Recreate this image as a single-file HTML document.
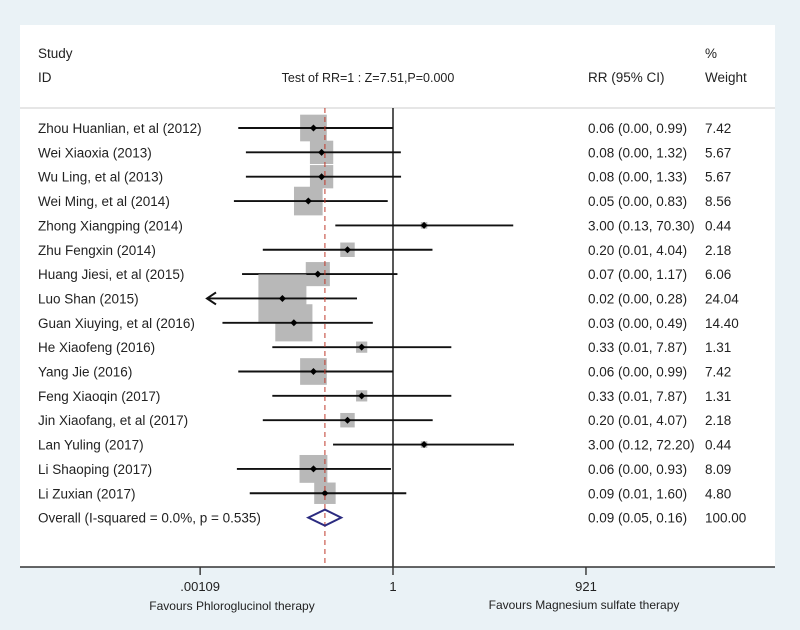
<!DOCTYPE html>
<html><head><meta charset="utf-8"><style>
body{margin:0;background:#fff}
svg{display:block;font-family:"Liberation Sans",sans-serif}
</style></head><body>
<svg id="c" width="800" height="630">
<rect x="0" y="0" width="800" height="630" fill="#eaf2f6"/>
<rect x="20" y="25" width="755" height="542" fill="#ffffff"/>
<g font-size="13.5" fill="#222">
<text x="38" y="58">Study</text>
<text x="38" y="82">ID</text>
<text x="368" y="82" font-size="12.5" text-anchor="middle">Test of RR=1 : Z=7.51,P=0.000</text>
<text x="588" y="82">RR (95% CI)</text>
<text x="705" y="58">%</text>
<text x="705" y="82">Weight</text>
</g>
<line x1="20" y1="108" x2="775" y2="108" stroke="#ccc"/>
<g id="marks"></g>
</svg>
<script>
const studies=["Zhou Huanlian, et al (2012)","Wei Xiaoxia (2013)","Wu Ling, et al (2013)","Wei Ming, et al (2014)","Zhong Xiangping (2014)","Zhu Fengxin (2014)","Huang Jiesi, et al (2015)","Luo Shan (2015)","Guan Xiuying, et al (2016)","He Xiaofeng (2016)","Yang Jie (2016)","Feng Xiaoqin (2017)","Jin Xiaofang, et al (2017)","Lan Yuling (2017)","Li Shaoping (2017)","Li Zuxian (2017)"];
const rr=[0.06,0.08,0.08,0.05,3.00,0.20,0.07,0.02,0.03,0.33,0.06,0.33,0.20,3.00,0.06,0.09];
const lower=[0.0042,0.0055,0.0055,0.0036,0.13,0.01,0.0048,0.0003,0.0024,0.014,0.0042,0.014,0.01,0.12,0.004,0.0063];
const upper=[0.99,1.32,1.33,0.83,70.30,4.04,1.17,0.28,0.49,7.87,0.99,7.87,4.07,72.20,0.93,1.60];
const ciText=["0.06 (0.00, 0.99)","0.08 (0.00, 1.32)","0.08 (0.00, 1.33)","0.05 (0.00, 0.83)","3.00 (0.13, 70.30)","0.20 (0.01, 4.04)","0.07 (0.00, 1.17)","0.02 (0.00, 0.28)","0.03 (0.00, 0.49)","0.33 (0.01, 7.87)","0.06 (0.00, 0.99)","0.33 (0.01, 7.87)","0.20 (0.01, 4.07)","3.00 (0.12, 72.20)","0.06 (0.00, 0.93)","0.09 (0.01, 1.60)"];
const weights=[7.42,5.67,5.67,8.56,0.44,2.18,6.06,24.04,14.40,1.31,7.42,1.31,2.18,0.44,8.09,4.80];
const overall=[0.09,0.05,0.16];
const overallLabel="Overall  (I-squared = 0.0%, p = 0.535)";
const overallCI="0.09 (0.05, 0.16)";
const ticks=[0.00109,1,921];
const tickLabels=[".00109","1","921"];

const NS="http://www.w3.org/2000/svg";
const g=document.getElementById('marks');
const X=v=>393+65.1*Math.log10(v);
const Y=i=>128+i*24.35;
const xmin=207;
const FS=13.5;
function mk(t,a,txt){const e=document.createElementNS(NS,t);for(const k in a)e.setAttribute(k,a[k]);if(txt!=null)e.textContent=txt;g.appendChild(e);return e;}
let e=mk('line',{x1:393,y1:108,x2:393,y2:567,stroke:'#111','stroke-width':1.4});


studies.forEach((s,i)=>{
 const y=Y(i),side=48*Math.sqrt(weights[i]/24.04);
 let t=mk('text',{x:38,y:y+5,'font-size':FS,fill:'#222'},s);
 
 
 let r=mk('rect',{x:X(rr[i])-side/2,y:y-side/2,width:side,height:side,fill:'#b8b8b8'});
 
 
 const x1=Math.max(X(lower[i]),xmin);
 let l=mk('line',{x1:x1,y1:y,x2:X(upper[i]),y2:y,stroke:'#111','stroke-width':1.9});
 
 
 if(X(lower[i])<xmin){
  let a=mk('path',{d:`M${xmin+9},${y-6} L${xmin},${y} L${xmin+9},${y+6}`,fill:'none',stroke:'#111','stroke-width':2});
  
  
 }
 let p=mk('path',{d:`M${X(rr[i])-3.5},${y} L${X(rr[i])},${y-3.5} L${X(rr[i])+3.5},${y} L${X(rr[i])},${y+3.5}Z`,fill:'#000'});
 
 
 let c=mk('text',{x:588,y:y+5,'font-size':FS,fill:'#222'},ciText[i]);
 
 
 let w=mk('text',{x:705,y:y+5,'font-size':FS,fill:'#222'},weights[i].toFixed(2));
 
 
});
const yo=Y(16);
e=mk('line',{x1:X(overall[0]),y1:108,x2:X(overall[0]),y2:567,stroke:'#c0392b','stroke-width':1,'stroke-dasharray':'5,4'});


e=mk('path',{d:`M${X(overall[1])},${yo} L${X(overall[0])},${yo-8} L${X(overall[2])},${yo} L${X(overall[0])},${yo+8}Z`,fill:'none',stroke:'#2b2b80','stroke-width':2});


e=mk('text',{x:38,y:yo+5,'font-size':FS,fill:'#222','xml:space':'preserve'},overallLabel);


e=mk('text',{x:588,y:yo+5,'font-size':FS,fill:'#222'},overallCI);


e=mk('text',{x:705,y:yo+5,'font-size':FS,fill:'#222'},"100.00");


e=mk('line',{x1:20,y1:567,x2:775,y2:567,stroke:'#333','stroke-width':1.4});


ticks.forEach((t,i)=>{
 let k=mk('line',{x1:X(t),y1:567,x2:X(t),y2:575,stroke:'#333','stroke-width':1.4});
 
 
 let tl=mk('text',{x:X(t),y:591,'font-size':13,fill:'#222','text-anchor':'middle'},tickLabels[i]);
 
 
});
e=mk('text',{x:232,y:610,'font-size':12,fill:'#222','text-anchor':'middle'},"Favours Phloroglucinol therapy");


e=mk('text',{x:584,y:609,'font-size':12,fill:'#222','text-anchor':'middle'},"Favours Magnesium sulfate therapy");


</script>
</body></html>
